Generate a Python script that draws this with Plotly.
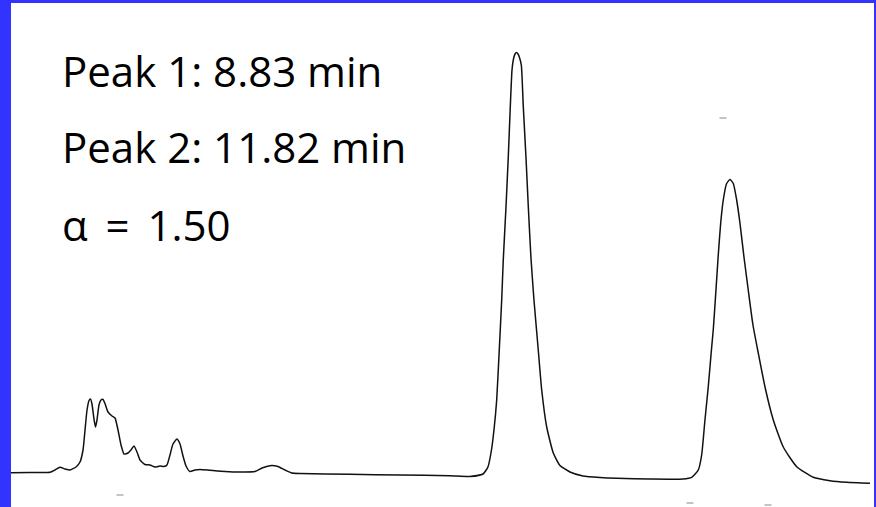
import plotly.graph_objects as go

# Retention time (min) and detector signal (arbitrary units)
time_min = [
    1.774, 2.039, 2.319, 2.388, 2.458, 2.528, 2.598, 2.682, 2.738, 2.780,
    2.808, 2.836, 2.864, 2.884, 2.905, 2.933, 2.954, 2.975, 3.003, 3.031,
    3.059, 3.087, 3.129, 3.185, 3.227, 3.269, 3.311, 3.353, 3.408, 3.450,
    3.492, 3.534, 3.576, 3.646, 3.716, 3.786, 3.856, 3.911, 3.953, 3.995,
    4.037, 4.093, 4.135, 4.177, 4.219, 4.275, 4.345, 4.414, 4.554, 4.764,
    4.973, 5.183, 5.281, 5.392, 5.504, 5.602, 5.700, 5.812, 6.510, 7.209,
    7.907, 8.187, 8.369, 8.438, 8.487, 8.522, 8.560, 8.596, 8.630, 8.652,
    8.690, 8.722, 8.750, 8.774, 8.792, 8.816, 8.837, 8.858, 8.876, 8.904,
    8.932, 8.969, 9.002, 9.039, 9.081, 9.141, 9.189, 9.259, 9.351, 9.444,
    9.584, 9.766, 10.003, 10.241, 10.702, 11.163, 11.284, 11.377, 11.424, 11.470,
    11.516, 11.564, 11.586, 11.624, 11.656, 11.690, 11.726, 11.773, 11.820, 11.866,
    11.913, 11.959, 12.015, 12.075, 12.141, 12.215, 12.309, 12.425, 12.564, 12.752,
    12.984, 13.217, 13.454, 13.776,
]
signal = [
    7.3, 7.5, 7.7, 10, 12.7, 11, 10, 13, 18, 30,
    50, 70, 79.5, 81, 76, 61, 53, 60, 75, 80,
    80.5, 76.5, 68, 64, 62, 50, 35, 26, 27, 30,
    34, 28, 20, 15.5, 15, 13, 14, 13.5, 15, 25,
    36, 41, 36, 24, 14, 8.5, 10, 10.5, 9.7, 8.5,
    8, 8.5, 12, 14.3, 13.5, 10, 7, 6.5, 5.7, 5,
    4.2, 3.5, 6, 13, 30, 50, 80, 130, 180, 220,
    273, 323, 373, 410, 420, 426, 427.5, 426, 423, 415,
    373, 323, 273, 222, 180, 130, 90, 53, 27, 14.5,
    8, 4, 2.5, 1.7, 1, 1, 2.7, 10, 25, 60,
    93, 133, 150, 190, 225, 257, 280, 296.5, 300.5, 296.5,
    280, 257, 223, 190, 155, 127, 93, 60, 33, 13.3,
    2.7, -0.7, -2.3, -3.3,
]

# Small specks on the scanned trace
speck_time = [3.297, 11.261, 12.351, 11.722]
speck_signal = [-15, -23, -25, 362]

labels = ["Peak 1: 8.83 min", "Peak 2: 11.82 min", "\u03b1\u2009 = \u20091.50"]

fig = go.Figure()
fig.add_trace(go.Scatter(
    x=time_min, y=signal, mode="lines",
    line=dict(color="#111111", width=1.5, shape="spline", smoothing=0.5),
    hoverinfo="skip", showlegend=False,
))
fig.add_trace(go.Scatter(
    x=speck_time, y=speck_signal, mode="markers",
    marker=dict(symbol="line-ew", size=5, line=dict(color="#888888", width=1)),
    hoverinfo="skip", showlegend=False,
))

label_y = [70, 147, 224]  # vertical centre of each text line (px from top)
for txt, py in zip(labels, label_y):
    fig.add_annotation(
        text=txt, xref="paper", yref="paper",
        x=60 / 876, y=1 - py / 507, xanchor="left", yanchor="middle",
        showarrow=False,
        font=dict(family="Open Sans", size=42, color="#000000"),
    )

blue = "#3333ff"
fig.add_shape(type="rect", xref="paper", yref="paper", x0=0, x1=11 / 876, y0=0, y1=1,
              fillcolor=blue, line=dict(width=0), layer="above")
fig.add_shape(type="rect", xref="paper", yref="paper", x0=0, x1=1, y0=1 - 3 / 507, y1=1,
              fillcolor=blue, line=dict(width=0), layer="above")
fig.add_shape(type="rect", xref="paper", yref="paper", x0=874 / 876, x1=1, y0=0, y1=1,
              fillcolor=blue, line=dict(width=0), layer="above")

fig.update_layout(
    width=876, height=507,
    margin=dict(l=0, r=0, t=0, b=0),
    paper_bgcolor="white", plot_bgcolor="white",
    xaxis=dict(range=[1.620, 13.860], visible=False, fixedrange=True),
    yaxis=dict(range=[-27, 480], visible=False, fixedrange=True),
)

fig.write_html(
    "out.html",
    config={"displayModeBar": False},
    post_script="document.body.style.margin='0';document.body.style.overflow='hidden';",
)
